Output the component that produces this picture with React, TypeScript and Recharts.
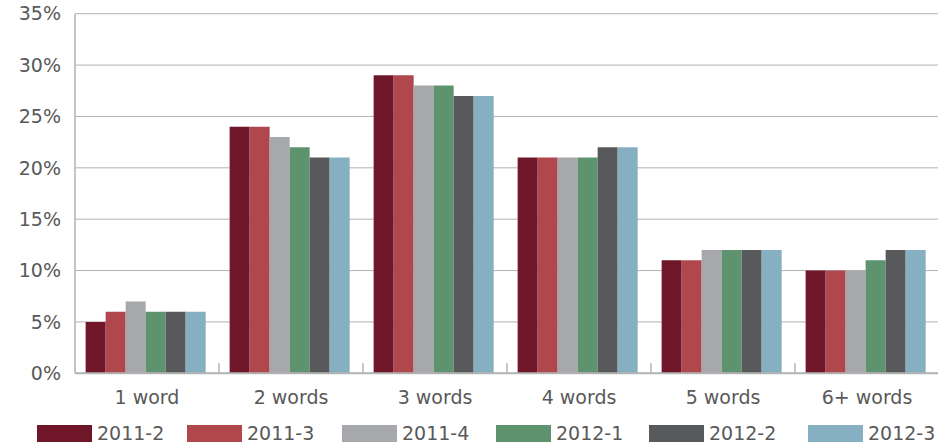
import React from 'react';
import { BarChart, Bar, XAxis, YAxis, CartesianGrid, Legend } from 'recharts';

const categories = ['1 word', '2 words', '3 words', '4 words', '5 words', '6+ words'];
const seriesNames = ['2011-2', '2011-3', '2011-4', '2012-1', '2012-2', '2012-3'];
const s2011_2 = [5, 24, 29, 21, 11, 10];
const s2011_3 = [6, 24, 29, 21, 11, 10];
const s2011_4 = [7, 23, 28, 21, 12, 10];
const s2012_1 = [6, 22, 28, 21, 12, 11];
const s2012_2 = [6, 21, 27, 22, 12, 12];
const s2012_3 = [6, 21, 27, 22, 12, 12];
const yTicks = [0, 5, 10, 15, 20, 25, 30, 35];
const seriesColors = ['#6f1628', '#b0474d', '#a7a8ab', '#5f9370', '#58595b', '#86b0c1'];

const seriesValues = [s2011_2, s2011_3, s2011_4, s2012_1, s2012_2, s2012_3];
const data = categories.map((c, i) => {
  const row: Record<string, string | number> = { category: c };
  seriesNames.forEach((n, j) => {
    row[n] = seriesValues[j][i];
  });
  return row;
});

const FONT = '"DejaVu Sans", sans-serif';
const TEXT = '#595959';
const AXIS = '#b3b3b3';
const FS = 19;
const CHART_W = 940;
const CHART_H = 444;
const Y_AXIS_W = 75;
const MARGIN = { top: 13.7, right: 1, left: 0, bottom: 0 };
const PLOT_W = CHART_W - MARGIN.right - MARGIN.left - Y_AXIS_W;
const BAND = PLOT_W / categories.length;

const CategoryTick = (props: any) => {
  const { x, y, payload, index } = props;
  return (
    <g>
      {index > 0 && (
        <line x1={x - BAND / 2} x2={x - BAND / 2} y1={y} y2={y - 10} stroke={AXIS} strokeWidth={1.5} />
      )}
      <text x={x} y={y + 17} dy="0.71em" textAnchor="middle" fill={TEXT} fontSize={FS} fontFamily={FONT}>
        {payload.value}
      </text>
    </g>
  );
};

const legendWidths = [150, 155, 154, 153, 159, 200];

const LegendContent = () => (
  <div style={{ display: 'flex', paddingLeft: 37, height: 26, alignItems: 'center', position: 'relative', top: 2 }}>
    {seriesNames.map((n, i) => (
      <div key={n} style={{ display: 'flex', alignItems: 'center', width: legendWidths[i], flex: 'none' }}>
        <div style={{ width: 55, height: 17, background: seriesColors[i], marginRight: 5, flex: 'none' }} />
        <span style={{ fontFamily: FONT, fontSize: FS, color: TEXT, whiteSpace: 'nowrap', lineHeight: '17px' }}>{n}</span>
      </div>
    ))}
  </div>
);

export default function App() {
  return (
    <div style={{ position: 'absolute', left: 0, top: 0, width: 938, height: CHART_H, overflow: 'hidden', background: '#fff' }}>
      <BarChart width={CHART_W} height={CHART_H} data={data} margin={MARGIN} barCategoryGap="7.4%" barGap={0}>
        <CartesianGrid vertical={false} stroke={AXIS} strokeWidth={1} />
        <XAxis
          dataKey="category"
          height={44.7}
          tickLine={false}
          tickSize={0}
          tickMargin={0}
          axisLine={{ stroke: AXIS, strokeWidth: 2 }}
          tick={<CategoryTick />}
          interval={0}
        />
        <YAxis
          width={Y_AXIS_W}
          domain={[0, 35]}
          ticks={yTicks}
          tickFormatter={(v: number) => `${v}%`}
          tickLine={false}
          tickSize={0}
          tickMargin={14}
          axisLine={{ stroke: AXIS, strokeWidth: 1.5 }}
          tick={{ fill: TEXT, fontSize: FS, fontFamily: FONT }}
          interval={0}
        />
        <Legend
          verticalAlign="bottom"
          content={<LegendContent />}
          wrapperStyle={{ left: 0, width: CHART_W }}
        />
        {seriesNames.map((n, i) => (
          <Bar key={n} dataKey={n} fill={seriesColors[i]} isAnimationActive={false} />
        ))}
      </BarChart>
    </div>
  );
}
